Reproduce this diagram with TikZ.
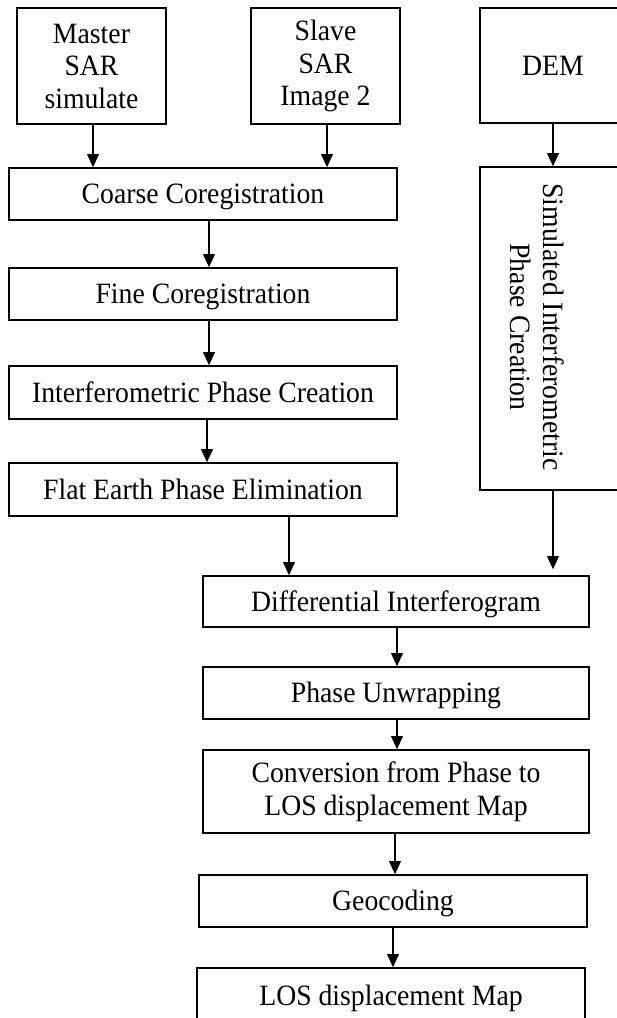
\documentclass[tikz,border=0pt]{standalone}
\usepackage{fontspec}
\setmainfont{Liberation Serif}[FakeStretch=0.94]
\usepackage{graphicx}
\usetikzlibrary{arrows.meta}
\tikzset{
  box/.style={draw=black, line width=1.8pt, fill=white, inner sep=0pt, align=center,
    font=\fontsize{29.5}{32.5}\selectfont},
  oneline/.style={text height=19.5pt, text depth=0pt},
  arr/.style={line width=1.1pt, -{Triangle[width=12pt,length=13pt]}}
}
\begin{document}
\begin{tikzpicture}[x=1pt,y=-1pt]
\useasboundingbox (0,0) rectangle (617,1018);
\fill[white] (0,0) rectangle (617,1018);
\clip (0,0) rectangle (617,1018);
% top inputs
\node[box, minimum width=149pt, minimum height=116pt] (master) at (91.5,66) {Master\\SAR\\simulate};
\node[box, minimum width=149pt, minimum height=116pt] (slave) at (325.5,66) {Slave\\SAR\\Image 2};
\node[box, oneline, minimum width=146pt, minimum height=115pt] (dem) at (553,65.5) {DEM};
% left column
\node[box, oneline, minimum width=388pt, minimum height=52pt] (coarse) at (203,194) {Coarse Coregistration};
\node[box, oneline, minimum width=388pt, minimum height=52pt] (fine) at (203,294) {Fine Coregistration};
\node[box, oneline, minimum width=388pt, minimum height=53pt] (interf) at (203,392.5) {Interferometric Phase Creation};
\node[box, oneline, minimum width=388pt, minimum height=53pt] (flat) at (203,489.5) {Flat Earth Phase Elimination};
% right column
\node[box, minimum width=146pt, minimum height=323pt] (sim) at (553,328.5) {};
\node[font=\fontsize{29.5}{33}\selectfont, inner sep=0pt] (simtext) at (534,327)
  {\rotatebox[origin=c]{-90}{\begin{tabular}{@{}c@{}}Simulated Interferometric\\[0pt]Phase Creation\end{tabular}}};
% lower column
\node[box, oneline, minimum width=386pt, minimum height=51pt] (diff) at (396,601.5) {Differential Interferogram};
\node[box, oneline, minimum width=386pt, minimum height=52pt] (unwrap) at (396,693) {Phase Unwrapping};
\node[box, minimum width=386pt, minimum height=83pt] (conv) at (396,791.5) {Conversion from Phase to\\LOS displacement Map};
\node[box, oneline, minimum width=388pt, minimum height=52pt] (geo) at (393,901) {Geocoding};
\node[box, oneline, minimum width=388pt, minimum height=56pt] (los) at (391,996) {LOS displacement Map};
% connectors
\draw[arr] ([xshift=1.5pt]master.south) -- ([xshift=1.5pt]master.south |- coarse.north);
\draw[arr] ([xshift=1.5pt]slave.south) -- ([xshift=1.5pt]slave.south |- coarse.north);
\draw[arr] (dem.south) -- (sim.north);
\draw[arr] ([xshift=6pt]coarse.south) -- ([xshift=6pt]fine.north);
\draw[arr] ([xshift=6pt]fine.south) -- ([xshift=6pt]interf.north);
\draw[arr] ([xshift=4pt]interf.south) -- ([xshift=4pt]flat.north);
\draw[arr] ([xshift=86pt]flat.south) -- ([xshift=86pt]flat.south |- diff.north);
\draw[arr] (sim.south) -- ([yshift=6pt]sim.south |- diff.north);
\draw[arr] ([xshift=1pt]diff.south) -- ([xshift=1pt]unwrap.north);
\draw[arr] ([xshift=1pt]unwrap.south) -- ([xshift=1pt]conv.north);
\draw[arr] ([xshift=-1pt]conv.south) -- ([xshift=-1pt]conv.south |- geo.north);
\draw[arr] (geo.south) -- (geo.south |- los.north);
\end{tikzpicture}
\end{document}
